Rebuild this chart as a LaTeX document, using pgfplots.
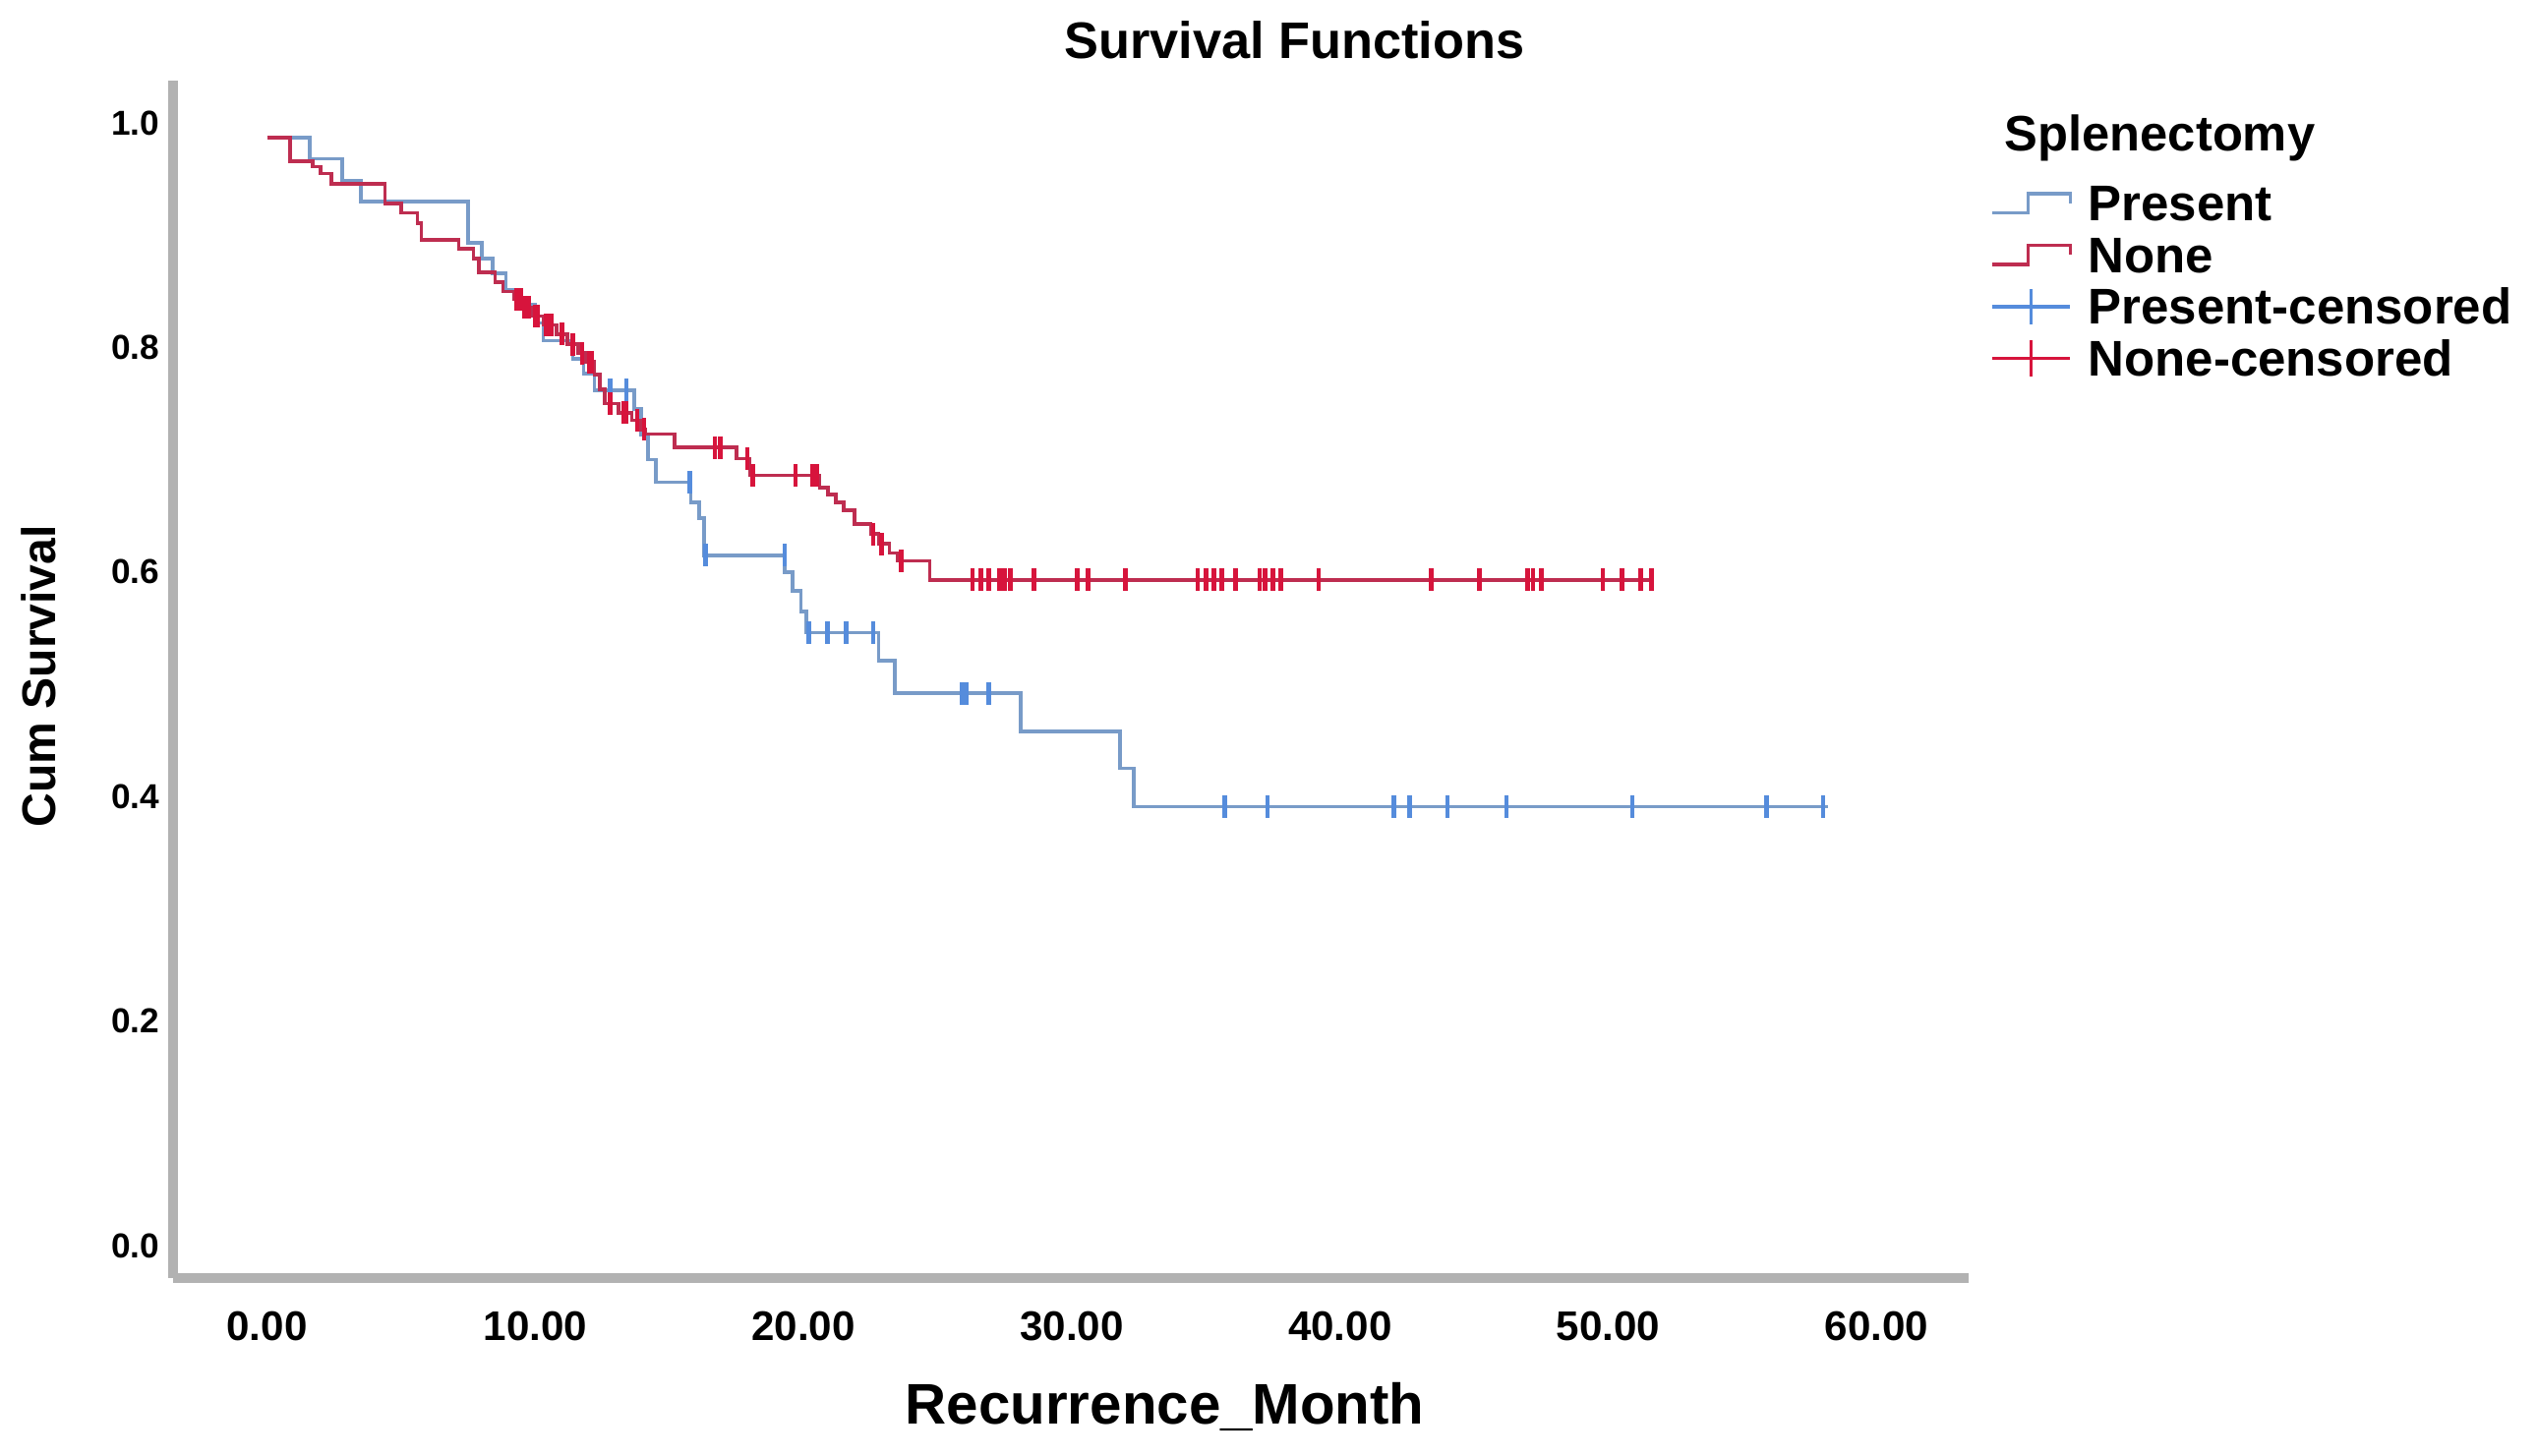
\documentclass[border=0pt]{standalone}
\usepackage{fontspec}
\setmainfont{Liberation Sans}
\usepackage{pgfplots}
\pgfplotsset{compat=1.18}

\definecolor{presline}{RGB}{120,155,200}
\definecolor{prescens}{RGB}{85,140,220}
\definecolor{noneline}{RGB}{190,45,80}
\definecolor{nonecens}{RGB}{215,20,60}

% step curves: time of each drop, survival after it
\pgfplotstableread{
t s
0 0.987
1.6 0.968
2.8 0.949
3.5 0.930
7.5 0.893
8.0 0.879
8.4 0.866
8.9 0.851
9.4 0.838
10.0 0.822
10.3 0.806
11.4 0.790
11.8 0.777
12.2 0.762
13.7 0.745
13.95 0.722
14.2 0.700
14.5 0.680
15.8 0.662
16.1 0.648
16.3 0.615
19.3 0.600
19.6 0.583
19.9 0.565
20.1 0.546
22.8 0.521
23.4 0.492
28.1 0.458
31.8 0.425
32.3 0.391
58.2 0.391
}\present

\pgfplotstableread{
t s
0 0.987
0.85 0.966
1.7 0.961
2.0 0.955
2.4 0.946
4.4 0.928
5.0 0.920
5.6 0.911
5.75 0.896
7.15 0.888
7.7 0.879
7.9 0.867
8.5 0.858
8.8 0.850
9.2 0.843
9.5 0.836
9.9 0.828
10.3 0.820
10.8 0.812
11.2 0.803
11.6 0.795
11.9 0.787
12.2 0.776
12.4 0.763
12.6 0.750
13.1 0.742
13.6 0.735
13.9 0.727
14.1 0.723
15.2 0.711
17.5 0.701
18.0 0.686
20.6 0.675
20.9 0.669
21.2 0.662
21.5 0.655
21.9 0.643
22.5 0.634
22.8 0.625
23.2 0.617
23.5 0.610
24.7 0.593
51.6 0.593
}\none

\pgfplotstableread{
t s
12.8 0.762
13.4 0.762
15.75 0.680
16.35 0.615
19.3 0.615
20.2 0.546
20.9 0.546
21.6 0.546
22.6 0.546
25.9 0.492
26.05 0.492
26.9 0.492
35.7 0.391
37.3 0.391
42.0 0.391
42.6 0.391
44.0 0.391
46.2 0.391
50.9 0.391
55.9 0.391
58.0 0.391
}\presentcens

\pgfplotstableread{
t s
9.3 0.843
9.45 0.843
9.6 0.836
9.75 0.836
10.0 0.828
10.1 0.828
10.4 0.820
10.6 0.820
11.0 0.812
11.4 0.803
11.75 0.795
12.0 0.787
12.1 0.787
12.8 0.750
13.3 0.742
13.4 0.742
13.8 0.735
14.05 0.727
16.7 0.711
16.9 0.711
17.9 0.701
18.1 0.686
19.7 0.686
20.35 0.686
20.5 0.686
22.6 0.634
22.9 0.625
23.65 0.610
26.3 0.593
26.6 0.593
26.9 0.593
27.3 0.593
27.5 0.593
27.7 0.593
28.6 0.593
30.2 0.593
30.6 0.593
32.0 0.593
34.7 0.593
35.0 0.593
35.3 0.593
35.6 0.593
36.1 0.593
37.0 0.593
37.2 0.593
37.5 0.593
37.8 0.593
39.2 0.593
43.4 0.593
45.2 0.593
47.0 0.593
47.2 0.593
47.5 0.593
49.8 0.593
50.5 0.593
51.2 0.593
51.6 0.593
}\nonecens

\pgfplotsset{
  steplegend/.style={legend image code/.code={
    \draw[##1,line width=1.1pt] (0pt,-3pt) -- (11pt,-3pt) -- (11pt,3pt) -- (24pt,3pt) -- (24pt,0pt);}},
  censlegend/.style={legend image code/.code={
    \draw[##1,line width=1pt] (0pt,0pt) -- (24pt,0pt);
    \draw[##1,line width=1pt] (12pt,-5.5pt) -- (12pt,5.5pt);}},
}

\begin{document}
\begin{tikzpicture}
\path[use as bounding box] (-53.5pt,-55pt) rectangle (730.5pt,395pt);
\begin{axis}[
  name=ax, at={(0,0)}, anchor=south west,
  scale only axis, width=555pt, height=370pt,
  xmin=-3.5, xmax=63.45, ymin=-0.0288, ymax=1.0375,
  axis x line*=bottom, axis y line*=left,
  axis line style={-, line width=3pt, color=black!30},
  xtick={0,10,20,30,40,50,60},
  xticklabels={0.00,10.00,20.00,30.00,40.00,50.00,60.00},
  ytick={0,0.2,0.4,0.6,0.8,1.0},
  yticklabels={0.0,0.2,0.4,0.6,0.8,1.0},
  major tick length=0pt,
  xticklabel style={font=\fontsize{12.8}{14}\selectfont\bfseries, anchor=center, yshift=-15pt},
  yticklabel style={font=\fontsize{10.7}{12}\selectfont\bfseries, anchor=east, xshift=-0.7pt},
  clip=false,
  legend cell align=left,
  legend style={draw=none, fill=none, at={(1.0117,0.916)}, anchor=north west,
    inner sep=0pt, row sep=3pt, column sep=4pt,
    font=\fontsize{15.5}{17}\selectfont\bfseries,
    nodes={inner sep=1pt, text height=11pt, text depth=0pt}},
]
\addplot[const plot, color=presline, line width=1.1pt, steplegend] table[x=t, y=s] {\present};
\addlegendentry{Present}
\addplot[const plot, color=noneline, line width=1.1pt, steplegend] table[x=t, y=s] {\none};
\addlegendentry{None}
\addplot[only marks, mark=|, mark size=3.5pt, color=prescens, mark options={line width=1.4pt}, censlegend] table[x=t, y=s] {\presentcens};
\addlegendentry{Present-censored}
\addplot[only marks, mark=|, mark size=3.5pt, color=nonecens, mark options={line width=1.4pt}, censlegend] table[x=t, y=s] {\nonecens};
\addlegendentry{None-censored}
\end{axis}
\node[anchor=base, font=\fontsize{15.9}{18}\selectfont\bfseries] at ([xshift=346.5pt, yshift=377pt]ax.south west) {Survival Functions};
\node[anchor=base west, font=\fontsize{15.4}{18}\selectfont\bfseries] at ([xshift=562.5pt, yshift=348.5pt]ax.south west) {Splenectomy};
\node[anchor=base, font=\fontsize{17.7}{20}\selectfont\bfseries] at ([xshift=306.5pt, yshift=-45.3pt]ax.south west) {Recurrence\_Month};
\node[anchor=center, rotate=90, font=\fontsize{14.6}{17}\selectfont\bfseries] at ([xshift=-41.5pt, yshift=186pt]ax.south west) {Cum Survival};
\end{tikzpicture}
\end{document}
